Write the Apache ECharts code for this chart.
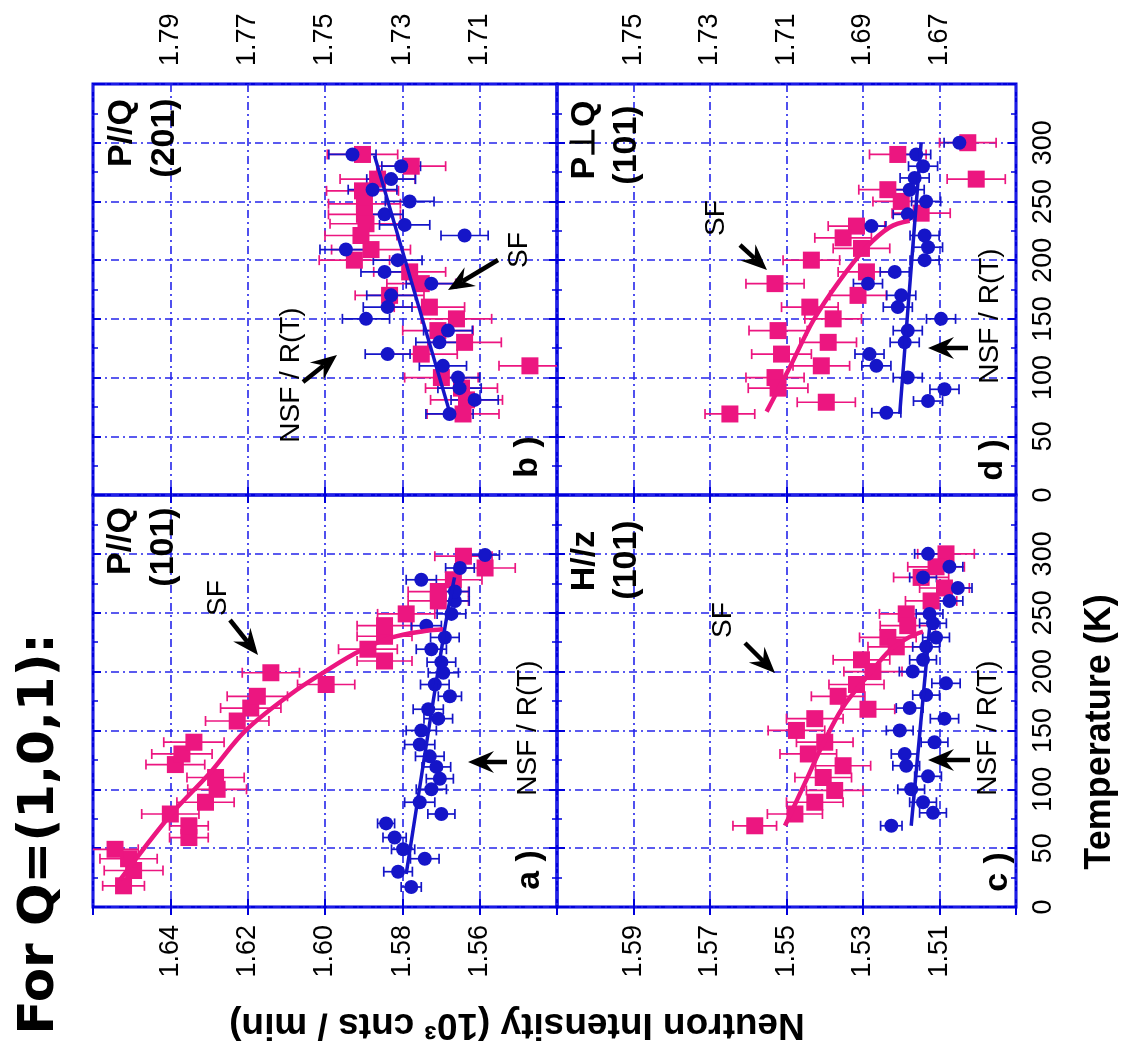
<!DOCTYPE html>
<html><head><meta charset="utf-8">
<script src="https://cdn.jsdelivr.net/npm/echarts@6/dist/echarts.min.js"></script>
<style>html,body{margin:0;padding:0;background:#fff}#c{width:1128px;height:1061px}</style>
</head><body><div id="c"></div>
<script>
// ---------- axis ranges / ticks ----------
const tempRange = [0, 350];          // Temperature (K), ticks every 50
const tempStep = 50;
const intStep = 0.02;
const rangeA = [1.54, 1.66];         // labels 1.56 .. 1.64
const rangeB = [1.69, 1.81];         // labels 1.71 .. 1.79
const rangeC = [1.49, 1.61];         // labels 1.51 .. 1.59
const rangeD = [1.65, 1.77];         // labels 1.67 .. 1.75

// ---------- panel a) P//Q (101) ----------
const tempPinkA = [18, 31, 41, 49, 59, 69, 79, 89, 100, 110, 121, 130, 140, 158, 169, 179, 189, 199, 209, 219, 230, 239, 249, 260, 268, 278, 288, 298];
const intPinkA  = [1.6521, 1.6495, 1.6508, 1.6543, 1.6352, 1.6352, 1.6400, 1.6309, 1.6279, 1.6283, 1.6387, 1.6370, 1.6339, 1.6227, 1.6192, 1.6175, 1.5997, 1.6140, 1.5846, 1.5889, 1.5846, 1.5846, 1.5790, 1.5707, 1.5707, 1.5668, 1.5586, 1.5642];
const errPinkA  = [0.0054, 0.0076, 0.0074, 0.0060, 0.0050, 0.0050, 0.0074, 0.0074, 0.0076, 0.0074, 0.0076, 0.0078, 0.0078, 0.0082, 0.0078, 0.0078, 0.0074, 0.0074, 0.0071, 0.0076, 0.0071, 0.0071, 0.0074, 0.0078, 0.0078, 0.0074, 0.0078, 0.0074];
const tempBlueA = [17, 30, 41, 49, 59, 71, 79, 89, 100, 109, 119, 128, 138, 150, 160, 168, 179, 189, 199, 208, 219, 229, 239, 249, 260, 268, 278, 288, 299];
const intBlueA  = [1.5777, 1.5811, 1.5742, 1.5798, 1.5820, 1.5842, 1.5699, 1.5755, 1.5725, 1.5703, 1.5712, 1.5729, 1.5755, 1.5751, 1.5707, 1.5733, 1.5677, 1.5716, 1.5694, 1.5699, 1.5725, 1.5690, 1.5738, 1.5673, 1.5664, 1.5664, 1.5751, 1.5651, 1.5586];
const errBlueA  = [0.0026, 0.0037, 0.0037, 0.0030, 0.0030, 0.0022, 0.0035, 0.0039, 0.0039, 0.0035, 0.0037, 0.0037, 0.0039, 0.0039, 0.0037, 0.0039, 0.0030, 0.0037, 0.0039, 0.0037, 0.0039, 0.0037, 0.0039, 0.0037, 0.0037, 0.0037, 0.0039, 0.0037, 0.0037];
const fitPinkTempA = [23, 78, 113, 150, 181, 200, 217, 229, 234.5, 236];
const fitPinkIntA  = [1.6530, 1.6400, 1.6300, 1.6205, 1.6088, 1.6000, 1.5913, 1.5827, 1.5742, 1.5694];
const fitBlueTempA = [28, 237, 280];
const fitBlueIntA  = [1.5790, 1.5690, 1.5665];

// ---------- panel b) P//Q (201) ----------
const tempPinkB = [290, 280, 269, 259, 248, 239, 231, 221, 209, 200, 190, 180, 170, 160, 150, 140, 130, 120, 110, 100, 91, 81, 69];
const intPinkB  = [1.7403, 1.7277, 1.7364, 1.7403, 1.7398, 1.7398, 1.7394, 1.7407, 1.7381, 1.7424, 1.7281, 1.7251, 1.7333, 1.7230, 1.7160, 1.7208, 1.7139, 1.7251, 1.6970, 1.7199, 1.7147, 1.7134, 1.7143];
const errPinkB  = [0.0091, 0.0089, 0.0097, 0.0093, 0.0093, 0.0093, 0.0093, 0.0093, 0.0102, 0.0091, 0.0093, 0.0089, 0.0089, 0.0091, 0.0091, 0.0091, 0.0095, 0.0093, 0.0080, 0.0095, 0.0093, 0.0093, 0.0093];
const tempBlueB = [290, 280, 269, 260, 250, 239, 230, 221, 209, 200, 190, 180, 170, 160, 150, 140, 130, 120, 110, 100, 91, 81, 69];
const intBlueB  = [1.7429, 1.7303, 1.7329, 1.7377, 1.7281, 1.7346, 1.7294, 1.7139, 1.7446, 1.7312, 1.7346, 1.7225, 1.7329, 1.7338, 1.7394, 1.7182, 1.7204, 1.7338, 1.7195, 1.7156, 1.7152, 1.7113, 1.7178];
const errBlueB  = [0.0061, 0.0050, 0.0063, 0.0063, 0.0063, 0.0048, 0.0065, 0.0061, 0.0067, 0.0063, 0.0061, 0.0065, 0.0063, 0.0063, 0.0061, 0.0063, 0.0061, 0.0058, 0.0061, 0.0056, 0.0056, 0.0061, 0.0061];
const fitBlueTempB = [71, 289];
const fitBlueIntB  = [1.7178, 1.7372];

// ---------- panel c) H//z (101) ----------
const tempPinkC = [300, 289, 280, 271, 260, 249, 239, 229, 221, 210, 200, 189, 179, 168, 160, 150, 140, 130, 120, 110, 99, 89, 79, 69];
const intPinkC  = [1.5083, 1.5109, 1.5148, 1.5087, 1.5122, 1.5187, 1.5183, 1.5235, 1.5213, 1.5304, 1.5274, 1.5317, 1.5365, 1.5287, 1.5426, 1.5474, 1.5400, 1.5443, 1.5352, 1.5404, 1.5374, 1.5426, 1.5478, 1.5583];
const errPinkC  = [0.0074, 0.0074, 0.0072, 0.0065, 0.0067, 0.0070, 0.0072, 0.0074, 0.0074, 0.0074, 0.0076, 0.0072, 0.0070, 0.0070, 0.0074, 0.0074, 0.0074, 0.0074, 0.0072, 0.0074, 0.0074, 0.0074, 0.0072, 0.0057];
const tempBlueC = [300, 289, 280, 271, 260, 249, 241, 229, 221, 210, 200, 190, 180, 169, 160, 150, 140, 130, 120, 111, 100, 89, 80, 69];
const intBlueC  = [1.5130, 1.5074, 1.5143, 1.5052, 1.5074, 1.5126, 1.5117, 1.5109, 1.5135, 1.5143, 1.5170, 1.5083, 1.5135, 1.5178, 1.5087, 1.5204, 1.5113, 1.5191, 1.5187, 1.5130, 1.5174, 1.5143, 1.5117, 1.5226];
const errBlueC  = [0.0035, 0.0035, 0.0035, 0.0037, 0.0035, 0.0035, 0.0035, 0.0035, 0.0035, 0.0035, 0.0035, 0.0037, 0.0035, 0.0035, 0.0037, 0.0035, 0.0035, 0.0035, 0.0035, 0.0035, 0.0035, 0.0035, 0.0035, 0.0028];
const fitPinkTempC = [69, 108, 139, 170, 198, 218, 229.5, 234];
const fitPinkIntC  = [1.5504, 1.5448, 1.5404, 1.5352, 1.5283, 1.5230, 1.5178, 1.5143];
const fitBlueTempC = [69, 237];
const fitBlueIntC  = [1.5174, 1.5126];

// ---------- panel d) P⊥Q (101) ----------
const tempPinkD = [300, 290, 269, 260, 250, 240, 229, 219, 210, 200, 190, 180, 170, 160, 150, 140, 130, 120, 110, 100, 91, 79, 69];
const intPinkD  = [1.6626, 1.6809, 1.6604, 1.6835, 1.6800, 1.6748, 1.6917, 1.6952, 1.6904, 1.7035, 1.6891, 1.7130, 1.6913, 1.7039, 1.6978, 1.7122, 1.6991, 1.7113, 1.7009, 1.7130, 1.7122, 1.6996, 1.7248];
const errPinkD  = [0.0074, 0.0074, 0.0076, 0.0076, 0.0074, 0.0076, 0.0074, 0.0074, 0.0074, 0.0074, 0.0074, 0.0076, 0.0074, 0.0074, 0.0074, 0.0076, 0.0074, 0.0078, 0.0074, 0.0076, 0.0078, 0.0076, 0.0065];
const tempBlueD = [300, 290, 280, 270, 260, 250, 239, 229, 221, 211, 200, 190, 180, 170, 160, 150, 140, 130, 120, 110, 100, 90, 80, 70];
const intBlueD  = [1.6648, 1.6761, 1.6743, 1.6765, 1.6778, 1.6735, 1.6783, 1.6878, 1.6739, 1.6730, 1.6739, 1.6817, 1.6887, 1.6800, 1.6809, 1.6696, 1.6783, 1.6791, 1.6883, 1.6865, 1.6783, 1.6687, 1.6730, 1.6839];
const errBlueD  = [0.0040, 0.0038, 0.0038, 0.0038, 0.0038, 0.0038, 0.0038, 0.0038, 0.0038, 0.0038, 0.0038, 0.0038, 0.0038, 0.0038, 0.0038, 0.0038, 0.0038, 0.0038, 0.0038, 0.0038, 0.0038, 0.0038, 0.0038, 0.0038];
const fitPinkTempD = [71, 109, 148.6, 182.6, 211, 228, 233.5];
const fitPinkIntD  = [1.7152, 1.7091, 1.7030, 1.6961, 1.6891, 1.6830, 1.6778];
const fitBlueTempD = [69, 231, 300];
const fitBlueIntD  = [1.6804, 1.6765, 1.6748];

// ---------- texts ----------
const titleText = 'For Q=(1,0,1):';
const yName = 'Neutron Intensity (10\u00B3 cnts / min)';
const xName = 'Temperature (K)';

// ---------- styling ----------
const FRAME = '#0000dc', GRIDC = '#2525ea', PINK = '#ec1680', BLUE = '#1515c8';
const FONT = '"Liberation Sans", Arial, sans-serif';

const zip = (I, T) => I.map((v, i) => [v, T[i]]);

// grid index: 0=b (top-left), 1=d (top-right), 2=a (bottom-left), 3=c (bottom-right)
const grids = [
  {left: 93, top: 84, width: 464, height: 411},
  {left: 557, top: 84, width: 459, height: 411},
  {left: 93, top: 495, width: 464, height: 412},
  {left: 557, top: 495, width: 459, height: 412}
].map(g => Object.assign({show: true, borderColor: FRAME, borderWidth: 3, backgroundColor: 'transparent'}, g));

const ranges = [rangeB, rangeD, rangeA, rangeC];
const xLabelPos = ['top', 'top', 'bottom', 'bottom'];
const other = {top: 'bottom', bottom: 'top', left: 'right', right: 'left'};
const yLabelShow = [false, true, false, true];

const tickStyle = {show: true, inside: true, length: 8, lineStyle: {color: FRAME, width: 2}};
const splitStyle = {show: true, lineStyle: {color: GRIDC, width: 1.6, type: [8, 4, 2, 4]}};
const labelBase = {rotate: 90, fontSize: 27, fontFamily: FONT, color: '#000'};

const xAxis = [], yAxis = [];
for (let g = 0; g < 4; g++) {
  xAxis.push({type: 'value', gridIndex: g, min: ranges[g][0], max: ranges[g][1], interval: intStep, inverse: true,
    position: xLabelPos[g], axisLine: {show: false}, axisTick: tickStyle, splitLine: splitStyle,
    axisLabel: Object.assign({show: true, margin: 18, showMinLabel: false, showMaxLabel: false,
      formatter: v => v.toFixed(2)}, labelBase)});
}
for (let g = 0; g < 4; g++) {
  xAxis.push({type: 'value', gridIndex: g, min: ranges[g][0], max: ranges[g][1], interval: intStep, inverse: true,
    position: other[xLabelPos[g]], axisLine: {show: false}, axisTick: tickStyle, splitLine: {show: false},
    axisLabel: {show: false}});
}
for (let g = 0; g < 4; g++) {
  yAxis.push({type: 'value', gridIndex: g, min: tempRange[0], max: tempRange[1], interval: tempStep,
    position: 'right', axisLine: {show: false}, axisTick: tickStyle,
    minorTick: {show: true, splitNumber: 2, length: 5, lineStyle: {color: FRAME, width: 1.5}},
    splitLine: splitStyle,
    axisLabel: Object.assign({show: yLabelShow[g], margin: 14, showMinLabel: true, showMaxLabel: false}, labelBase)});
}
for (let g = 0; g < 4; g++) {
  yAxis.push({type: 'value', gridIndex: g, min: tempRange[0], max: tempRange[1], interval: tempStep,
    position: 'left', axisLine: {show: false}, axisTick: tickStyle,
    minorTick: {show: true, splitNumber: 2, length: 5, lineStyle: {color: FRAME, width: 1.5}},
    splitLine: {show: false}, axisLabel: {show: false}});
}

function errSeries(g, I, T, E, color) {
  return {type: 'custom', xAxisIndex: g, yAxisIndex: g, clip: true, z: 2, silent: true,
    data: I.map((v, i) => [v, T[i], E[i]]), encode: {x: 0, y: 1},
    renderItem: (params, api) => {
      const v = api.value(0), t = api.value(1), e = api.value(2);
      const a = api.coord([v - e, t]), b = api.coord([v + e, t]), h = 5;
      const st = {stroke: color, lineWidth: 1.7};
      return {type: 'group', children: [
        {type: 'line', shape: {x1: a[0], y1: a[1], x2: b[0], y2: b[1]}, style: st},
        {type: 'line', shape: {x1: a[0], y1: a[1] - h, x2: a[0], y2: a[1] + h}, style: st},
        {type: 'line', shape: {x1: b[0], y1: b[1] - h, x2: b[0], y2: b[1] + h}, style: st}
      ]};
    }};
}
function pts(g, I, T, color, symbol, size) {
  return {type: 'scatter', xAxisIndex: g, yAxisIndex: g, data: zip(I, T), symbol: symbol, symbolSize: size,
    itemStyle: {color: color, opacity: 1}, z: 3, silent: true};
}
function fit(g, I, T, color, w) {
  return {type: 'line', xAxisIndex: g, yAxisIndex: g, data: zip(I, T), showSymbol: false, symbol: 'none',
    smooth: 0.35, lineStyle: {color: color, width: w}, z: 4, silent: true};
}

const series = [
  // b
  errSeries(0, intPinkB, tempPinkB, errPinkB, PINK), errSeries(0, intBlueB, tempBlueB, errBlueB, BLUE),
  pts(0, intPinkB, tempPinkB, PINK, 'rect', 17), pts(0, intBlueB, tempBlueB, BLUE, 'circle', 14),
  fit(0, fitBlueIntB, fitBlueTempB, BLUE, 3.5),
  // d
  errSeries(1, intPinkD, tempPinkD, errPinkD, PINK), errSeries(1, intBlueD, tempBlueD, errBlueD, BLUE),
  pts(1, intPinkD, tempPinkD, PINK, 'rect', 17), pts(1, intBlueD, tempBlueD, BLUE, 'circle', 14),
  fit(1, fitPinkIntD, fitPinkTempD, PINK, 4.5), fit(1, fitBlueIntD, fitBlueTempD, BLUE, 3.5),
  // a
  errSeries(2, intPinkA, tempPinkA, errPinkA, PINK), errSeries(2, intBlueA, tempBlueA, errBlueA, BLUE),
  pts(2, intPinkA, tempPinkA, PINK, 'rect', 17), pts(2, intBlueA, tempBlueA, BLUE, 'circle', 14),
  fit(2, fitPinkIntA, fitPinkTempA, PINK, 4.5), fit(2, fitBlueIntA, fitBlueTempA, BLUE, 3.5),
  // c
  errSeries(3, intPinkC, tempPinkC, errPinkC, PINK), errSeries(3, intBlueC, tempBlueC, errBlueC, BLUE),
  pts(3, intPinkC, tempPinkC, PINK, 'rect', 17), pts(3, intBlueC, tempBlueC, BLUE, 'circle', 14),
  fit(3, fitPinkIntC, fitPinkTempC, PINK, 4.5), fit(3, fitBlueIntC, fitBlueTempC, BLUE, 3.5)
];

// ---------- annotations (rotated texts + arrows) ----------
function txt(s, x, y, font, rot) {
  return {type: 'text', x: x, y: y, rotation: rot === undefined ? Math.PI / 2 : rot, z: 10, silent: true,
    style: {text: s, font: font, fill: '#000', align: 'center', verticalAlign: 'middle',
      textAlign: 'center', textVerticalAlign: 'middle'}};
}
function arrow(x1, y1, x2, y2) {
  const dx = x2 - x1, dy = y2 - y1, L = Math.hypot(dx, dy), ux = dx / L, uy = dy / L, px = -uy, py = ux;
  const hl = 26, hw = 11, notch = 9;
  const bx = x2 - ux * hl, by = y2 - uy * hl;
  const nx = x2 - ux * (hl - notch), ny = y2 - uy * (hl - notch);
  return [
    {type: 'line', z: 10, silent: true, shape: {x1: x1, y1: y1, x2: nx, y2: ny}, style: {stroke: '#000', lineWidth: 4.5}},
    {type: 'polygon', z: 10, silent: true, shape: {points: [[x2, y2], [bx + px * hw, by + py * hw], [nx, ny], [bx - px * hw, by - py * hw]]},
      style: {fill: '#000'}}
  ];
}
const BOLDL = 'bold 34px ' + FONT, REG = '28px ' + FONT;
const elements = [
  txt(titleText, 40, 834, 'bold 50px "DejaVu Sans", sans-serif'),
  txt(yName, 517, 1024, 'bold 37px ' + FONT, Math.PI),
  txt(xName, 1100, 732, 'bold 36px ' + FONT),
  // panel a
  txt('P//Q', 121, 541, BOLDL), txt('(101)', 164, 547, BOLDL), txt('SF', 218, 598, REG),
  txt('NSF / R(T)', 528, 728, REG), txt('a )', 530, 870, BOLDL),
  ...arrow(230, 620, 258, 655), ...arrow(507, 762, 468, 762),
  // panel b
  txt('P//Q', 122, 133, BOLDL), txt('(201)', 165, 138, BOLDL), txt('SF', 519, 250, REG),
  txt('NSF / R(T)', 291, 375, REG), txt('b )', 528, 457, BOLDL),
  ...arrow(498, 260, 448, 290), ...arrow(303, 382, 337, 355),
  // panel c
  txt('H//z', 585, 561, BOLDL), txt('(101)', 627, 560, BOLDL), txt('SF', 723, 620, REG),
  txt('NSF / R(T)', 988, 728, REG), txt('c )', 998, 872, BOLDL),
  ...arrow(745, 643, 775, 673), ...arrow(970, 760, 928, 760),
  // panel d
  txt('P\u22A5Q', 585, 140, BOLDL), txt('(101)', 627, 145, BOLDL), txt('SF', 716, 218, REG),
  txt('NSF / R(T)', 990, 316, REG), txt('d )', 993, 460, BOLDL),
  ...arrow(740, 245, 767, 270), ...arrow(968, 348, 928, 348)
];

const chart = echarts.init(document.getElementById('c'), null, {renderer: 'canvas'});
chart.setOption({
  animation: false,
  backgroundColor: '#ffffff',
  grid: grids,
  xAxis: xAxis,
  yAxis: yAxis,
  series: series,
  graphic: {elements: elements}
});
</script>
</body></html>
